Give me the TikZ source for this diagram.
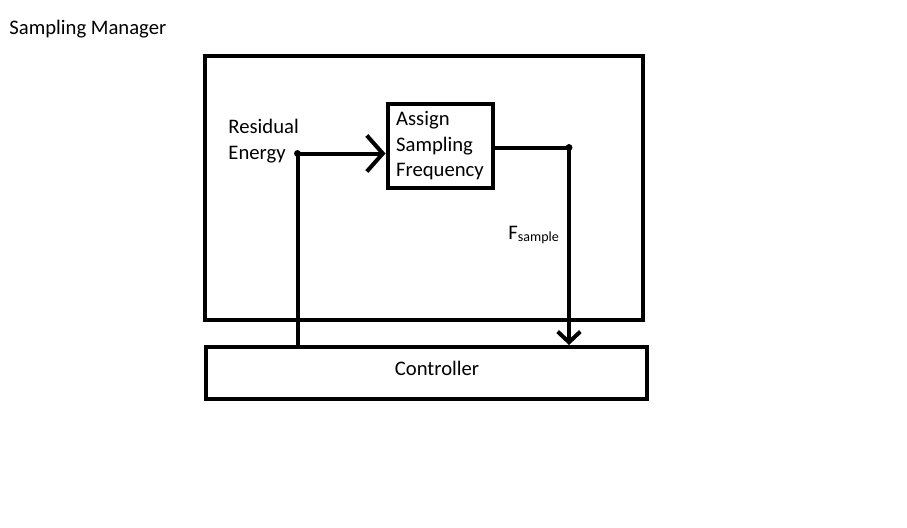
\documentclass[tikz,border=0pt]{standalone}
\usepackage{fontspec}
\setmainfont{Carlito}
\usetikzlibrary{arrows.meta}

\begin{document}
\begin{tikzpicture}[
		%Global config
		x=0.75pt, y=-0.75pt,
		line width=3pt,
		font=\fontsize{15.5}{19}\selectfont,
		%Styles
		box/.style={
			draw,
			line width=3pt,
			inner sep=0pt,
		},
		wire/.style={
			line width=3pt,
		},
		bigchev/.style={-{Straight Barb[length=12pt,width=27pt]}},
		smallchev/.style={-{Straight Barb[length=8pt,width=17pt]}},
		]
		\useasboundingbox (0,0) rectangle (907,528);

		\node[anchor=west] (title) at (3,29) {Sampling Manager};

		\node[box, minimum width=328.5pt, minimum height=198pt] (manager) at (424,188) {};
		\node[box, minimum width=330.75pt, minimum height=39pt] (ctrl) at (426.5,373) {};
		\node (ctrltxt) at (437,368) {Controller};

		\node[box, minimum width=78.75pt, minimum height=62.25pt, align=left, text depth=3pt] (assign) at (440,146) {Assign\\Sampling\\Frequency};
		\node[anchor=west, align=left, font=\fontsize{15.5}{20}\selectfont] (energy) at (222,141) {Residual\\Energy};
		\node[anchor=west] (fsample) at (502,235) {F\raisebox{-1pt}{\fontsize{10.5}{10.5}\selectfont sample}};

		\coordinate (re) at (297.5,153.5);
		\coordinate (fs) at (569,147.5);

		\draw[wire] (re |- ctrl.north) -- (re);
		\draw[wire, bigchev] (re) -- (assign.west |- re);
		\draw[wire, smallchev] (assign.east |- fs) -- (fs) -- (fs |- ctrl.north);
		\fill (re) circle (2.6pt);
		\fill (fs) circle (2.6pt);
	\end{tikzpicture}
\end{document}
